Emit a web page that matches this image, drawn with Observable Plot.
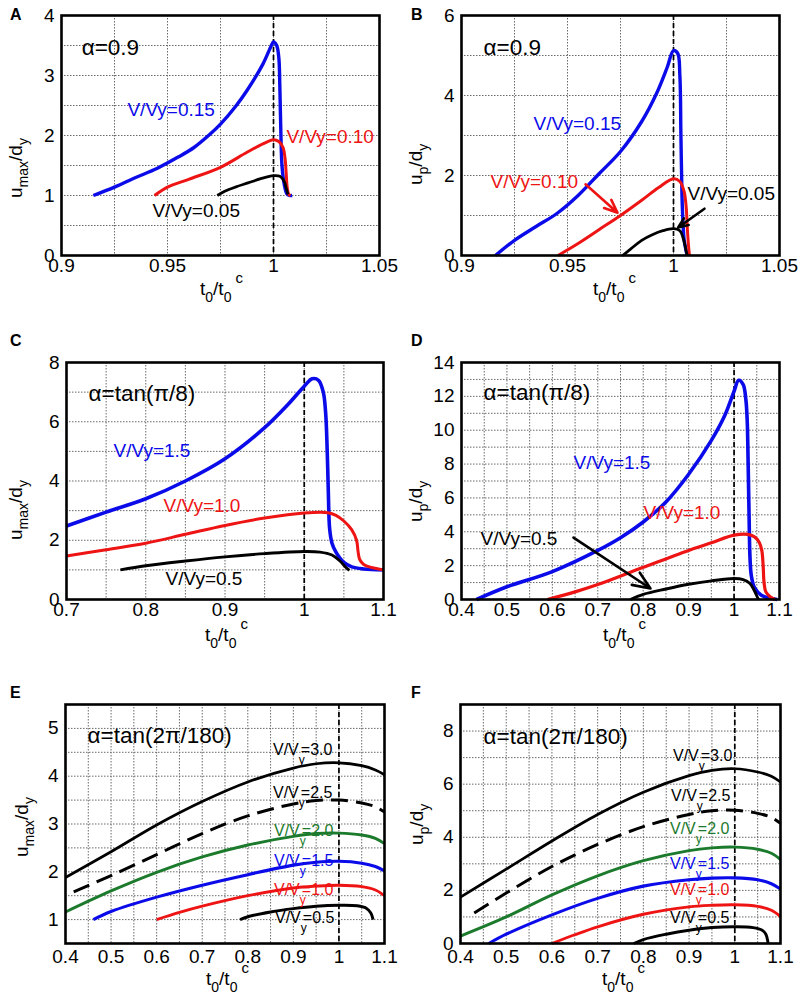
<!DOCTYPE html>
<html><head><meta charset="utf-8">
<script src="https://cdn.jsdelivr.net/npm/d3@7"></script>
<script src="https://cdn.jsdelivr.net/npm/@observablehq/plot@0.6"></script>
<style>
body{margin:0;background:#fff;}
#root{position:relative;width:801px;height:1003px;overflow:hidden;font-family:"Liberation Sans",Arial,sans-serif;background:#fff;}
.panel{position:absolute;}
.letter{position:absolute;font-weight:bold;font-size:16px;line-height:1;font-family:"Liberation Sans",Arial,sans-serif;}
</style></head><body><div id="root"></div>
<script>
// ---------- DATA ----------
// Panel A (alpha = 0.9): u_max/d_y vs t0/t0c
const A_v015 = [[0.915,1.0],[0.925,1.14],[0.935,1.3],[0.945,1.45],[0.955,1.64],[0.9625,1.8],[0.97,2.02],[0.975,2.19],[0.982,2.48],[0.9875,2.75],[0.995,3.19],[0.999,3.5],[1.0,3.56],[1.0015,3.5],[1.0025,3.3],[1.003,2.8],[1.0035,2.0],[1.004,1.5],[1.005,1.2],[1.0063,1.03],[1.0075,1.0],[1.0088,1.0]];
const A_v010 = [[0.9439,1.0],[0.95,1.14],[0.96,1.27],[0.975,1.47],[0.9875,1.72],[0.995,1.86],[1.0,1.93],[1.0025,1.9],[1.0045,1.8],[1.0055,1.6],[1.006,1.36],[1.0065,1.12],[1.0072,1.02],[1.008,1.0]];
const A_v005 = [[0.9735,1.0],[0.977,1.07],[0.982,1.14],[0.988,1.21],[0.994,1.28],[1.0,1.33],[1.003,1.32],[1.005,1.24],[1.006,1.12],[1.0068,1.02]];
// Panel B (alpha = 0.9): u_p/d_y
const B_v015 = [[0.916,0],[0.925,0.38],[0.935,0.72],[0.945,1.05],[0.955,1.5],[0.965,2.05],[0.975,2.6],[0.985,3.35],[0.992,4.05],[0.997,4.7],[1.0,5.12],[1.002,5.05],[1.003,4.5],[1.0035,3.0],[1.004,1.5],[1.0045,0.8],[1.005,0.4],[1.006,0.1],[1.0065,0]];
const B_v010 = [[0.9455,0],[0.955,0.3],[0.965,0.65],[0.975,1.0],[0.985,1.38],[0.993,1.7],[1.0,1.92],[1.003,1.85],[1.005,1.6],[1.006,1.2],[1.0065,0.7],[1.007,0.3],[1.0075,0]];
const B_v005 = [[0.976,0],[0.98,0.17],[0.985,0.38],[0.99,0.52],[0.995,0.62],[1.0,0.67],[1.003,0.62],[1.005,0.35],[1.006,0.1],[1.0065,0]];
// Panel C (alpha = tan(pi/8)): u_max/d_y
const C_v15 = [[0.7,2.48],[0.75,2.95],[0.8,3.4],[0.85,4.0],[0.9,4.75],[0.95,5.8],[0.98,6.6],[1.0,7.2],[1.01,7.45],[1.018,7.4],[1.024,7.0],[1.027,6.3],[1.029,5.0],[1.0305,3.5],[1.032,2.4],[1.035,1.9],[1.04,1.6],[1.05,1.25],[1.06,1.1],[1.075,1.03],[1.1,1.0]];
const C_v10 = [[0.7,1.47],[0.75,1.68],[0.8,1.9],[0.85,2.2],[0.9,2.5],[0.95,2.75],[1.0,2.92],[1.03,2.93],[1.04,2.84],[1.05,2.65],[1.06,2.35],[1.066,2.0],[1.068,1.6],[1.07,1.35],[1.075,1.18],[1.085,1.08],[1.1,1.0]];
const C_v05 = [[0.768,1.0],[0.8,1.14],[0.85,1.3],[0.9,1.44],[0.95,1.55],[1.0,1.62],[1.02,1.6],[1.035,1.5],[1.045,1.3],[1.052,1.1],[1.057,0.98]];
// Panel D (alpha = tan(pi/8)): u_p/d_y
const D_v15 = [[0.433,0],[0.5,0.75],[0.6,1.65],[0.7,2.9],[0.75,3.65],[0.8,4.58],[0.85,5.76],[0.9,7.4],[0.95,9.4],[0.98,10.9],[1.0,12.3],[1.01,12.95],[1.02,12.7],[1.026,11.8],[1.029,10.5],[1.031,8.0],[1.033,5.0],[1.035,2.5],[1.038,1.4],[1.045,0.7],[1.06,0.25],[1.08,0.07],[1.095,0]];
const D_v10 = [[0.589,0],[0.65,0.45],[0.7,0.88],[0.8,1.9],[0.9,2.9],[0.95,3.35],[1.0,3.8],[1.03,3.85],[1.045,3.7],[1.055,3.4],[1.061,2.9],[1.064,2.0],[1.066,1.0],[1.07,0.45],[1.08,0.15],[1.09,0]];
const D_v05 = [[0.772,0],[0.8,0.3],[0.85,0.62],[0.9,0.9],[0.95,1.1],[1.0,1.24],[1.02,1.18],[1.035,0.95],[1.045,0.5],[1.052,0.1],[1.054,0]];
// Panel E (alpha = tan(2pi/180)): u_max/d_y
const E_v30 = [[0.4,1.88],[0.5,2.42],[0.6,2.98],[0.7,3.47],[0.8,3.88],[0.9,4.17],[0.95,4.26],[1.0,4.28],[1.05,4.22],[1.08,4.13],[1.1,4.03]];
const E_v25 = [[0.418,1.58],[0.5,1.92],[0.6,2.36],[0.7,2.8],[0.8,3.17],[0.9,3.42],[0.95,3.49],[1.0,3.5],[1.05,3.44],[1.08,3.36],[1.1,3.25]];
const E_v20 = [[0.4,1.16],[0.5,1.6],[0.6,1.99],[0.7,2.31],[0.8,2.56],[0.9,2.74],[0.95,2.8],[1.0,2.81],[1.05,2.77],[1.08,2.7],[1.1,2.59]];
const E_v15 = [[0.461,1.0],[0.5,1.17],[0.6,1.47],[0.7,1.72],[0.8,1.94],[0.9,2.14],[0.95,2.2],[1.0,2.22],[1.05,2.18],[1.08,2.11],[1.1,2.02]];
const E_v10 = [[0.6,1.0],[0.65,1.15],[0.7,1.28],[0.8,1.5],[0.9,1.66],[0.95,1.7],[1.0,1.72],[1.05,1.69],[1.08,1.62],[1.1,1.5]];
const E_v05 = [[0.783,1.0],[0.8,1.06],[0.85,1.16],[0.9,1.23],[0.95,1.28],[1.0,1.3],[1.04,1.29],[1.06,1.24],[1.07,1.14],[1.075,1.0]];
// Panel F (alpha = tan(2pi/180)): u_p/d_y
const F_v30 = [[0.4,1.75],[0.5,2.8],[0.6,3.86],[0.7,4.86],[0.8,5.7],[0.9,6.32],[0.95,6.52],[1.0,6.58],[1.05,6.46],[1.08,6.3],[1.1,6.08]];
const F_v25 = [[0.43,1.15],[0.5,1.9],[0.6,2.9],[0.7,3.73],[0.8,4.4],[0.9,4.86],[0.95,5.0],[1.0,5.02],[1.05,4.9],[1.08,4.75],[1.1,4.53]];
const F_v20 = [[0.4,0.28],[0.5,1.0],[0.6,1.83],[0.7,2.55],[0.8,3.12],[0.9,3.5],[0.95,3.6],[1.0,3.63],[1.05,3.55],[1.08,3.4],[1.1,3.16]];
const F_v15 = [[0.462,0],[0.5,0.35],[0.6,1.08],[0.7,1.7],[0.8,2.16],[0.9,2.4],[0.95,2.46],[1.0,2.47],[1.05,2.4],[1.08,2.25],[1.1,2.05]];
const F_v10 = [[0.6,0],[0.65,0.33],[0.7,0.63],[0.8,1.1],[0.9,1.38],[0.95,1.44],[1.0,1.46],[1.05,1.4],[1.08,1.25],[1.1,1.01]];
const F_v05 = [[0.779,0],[0.8,0.15],[0.85,0.35],[0.9,0.5],[0.95,0.6],[1.0,0.63],[1.04,0.6],[1.06,0.5],[1.068,0.35],[1.072,0.1],[1.073,0]];

// Tick labels
const xTicksAB = [0.9, 0.95, 1, 1.05];
const xTicksC = [0.7, 0.8, 0.9, 1, 1.1];
const xTicksDEF = [0.4, 0.5, 0.6, 0.7, 0.8, 0.9, 1, 1.1];
const yTicksA = [0, 1, 2, 3, 4];
const yTicksB = [0, 2, 4, 6];
const yTicksC = [0, 2, 4, 6, 8];
const yTicksD = [0, 2, 4, 6, 8, 10, 12, 14];
const yTicksE = [1, 2, 3, 4, 5];
const yTicksF = [0, 2, 4, 6, 8];

// ---------- STYLE ----------
const BLUE = "#0b0bea", RED = "#ee1414", GREEN = "#1c7a2c", BLACK = "#000";
const FONT = '"Liberation Sans", Arial, sans-serif';
const AS = 22.5; // alpha label font size
const rng = (a, b, s) => d3.range(Math.round((b - a) / s) + 1).map(i => +(a + i * s).toFixed(4));

const panels = [
  {id:"A", left:0, top:0, w:400, h:300, m:[15,21,45,61], xd:[0.9,1.05], yd:[0,4], xt:xTicksAB, yt:yTicksA,
   xg:rng(0.9,1.05,0.025), yg:rng(0,4,0.5), tp:3, ylab:"max", ylx:22, yly:198, xlx:200, xly:295,
   series:[{d:A_v015,c:BLUE,w:3.4},{d:A_v010,c:RED,w:3},{d:A_v005,c:BLACK,w:2.8}],
   texts:[{t:"α=0.9",x:0.9095,y:3.47,c:BLACK,s:AS},{t:"V/Vy=0.15",x:0.9311,y:2.42,c:BLUE,s:19},
          {t:"V/Vy=0.10",x:1.0061,y:1.97,c:RED,s:19},{t:"V/Vy=0.05",x:0.9429,y:0.75,c:BLACK,s:19}], arrows:[], subl:[]},
  {id:"B", left:400, top:0, w:400, h:300, m:[15,21,45,61], xd:[0.9,1.05], yd:[0,6], xt:xTicksAB, yt:yTicksB,
   xg:rng(0.9,1.05,0.025), yg:rng(0,6,1), tp:3, ylab:"p", ylx:22, yly:185, xlx:193, xly:295,
   series:[{d:B_v015,c:BLUE,w:3.4},{d:B_v010,c:RED,w:3},{d:B_v005,c:BLACK,w:2.8}],
   texts:[{t:"α=0.9",x:0.9104,y:5.2,c:BLACK,s:AS},{t:"V/Vy=0.15",x:0.934,y:3.3,c:BLUE,s:19},
          {t:"V/Vy=0.10",x:0.9137,y:1.83,c:RED,s:19},{t:"V/Vy=0.05",x:1.0066,y:1.55,c:BLACK,s:19}],
   arrows:[{x1:0.9585,y1:1.78,x2:0.9736,y2:1.07,c:RED},{x1:1.0146,y1:1.17,x2:1.0022,y2:0.7,c:BLACK}], subl:[]},
  {id:"C", left:0, top:330, w:400, h:320, m:[32,17,51,66], xd:[0.7,1.1], yd:[0,8], xt:xTicksC, yt:yTicksC,
   xg:rng(0.7,1.1,0.05), yg:rng(0,8,1), tp:3, ylab:"max", ylx:22, yly:210, xlx:205, xly:311,
   series:[{d:C_v15,c:BLUE,w:3.6},{d:C_v10,c:RED,w:3},{d:C_v05,c:BLACK,w:2.9}],
   texts:[{t:"α=tan(π/8)",x:0.7278,y:6.95,c:BLACK,s:AS},{t:"V/Vy=1.5",x:0.7593,y:5.03,c:BLUE,s:19},
          {t:"V/Vy=1.0",x:0.8224,y:3.17,c:RED,s:19},{t:"V/Vy=0.5",x:0.8249,y:0.71,c:BLACK,s:19}], arrows:[], subl:[]},
  {id:"D", left:400, top:330, w:400, h:320, m:[32,21,51,61], xd:[0.4,1.1], yd:[0,14], xt:xTicksDEF, yt:yTicksD,
   xg:rng(0.4,1.1,0.05), yg:rng(0,14,1), tp:3, ylab:"p", ylx:22, yly:192, xlx:203, xly:311,
   series:[{d:D_v15,c:BLUE,w:3.6},{d:D_v10,c:RED,w:3.2},{d:D_v05,c:BLACK,w:2.9}],
   texts:[{t:"α=tan(π/8)",x:0.4484,y:12.23,c:BLACK,s:AS},{t:"V/Vy=1.5",x:0.6465,y:8.09,c:BLUE,s:19},
          {t:"V/Vy=1.0",x:0.8006,y:5.14,c:RED,s:19},{t:"V/Vy=0.5",x:0.4418,y:3.6,c:BLACK,s:19}],
   arrows:[{x1:0.6465,y1:3.66,x2:0.816,y2:0.65,c:BLACK}], subl:[]},
  {id:"E", left:0, top:660, w:400, h:343, m:[44,16,60,65], xd:[0.4,1.1], yd:[0.5,5.5], xt:xTicksDEF, yt:yTicksE,
   xg:rng(0.4,1.1,0.05), yg:rng(0.5,5.5,0.5), tp:6, ylab:"max", ylx:28, yly:197, xlx:206, xly:325,
   series:[{d:E_v30,c:BLACK,w:2.7},{d:E_v25,c:BLACK,w:3,dash:"17,8"},{d:E_v20,c:GREEN,w:2.9},{d:E_v15,c:BLUE,w:3.1},{d:E_v10,c:RED,w:2.9},{d:E_v05,c:BLACK,w:2.9}],
   texts:[{t:"α=tan(2π/180)",x:0.4483,y:4.85,c:BLACK,s:AS}], arrows:[],
   subl:[{v:"3.0",x:0.8564,y:4.54,c:BLACK},{v:"2.5",x:0.8564,y:3.66,c:BLACK},{v:"2.0",x:0.8586,y:2.86,c:GREEN},
         {v:"1.5",x:0.8586,y:2.22,c:BLUE},{v:"1.0",x:0.8586,y:1.63,c:RED},{v:"0.5",x:0.8608,y:1.04,c:BLACK}]},
  {id:"F", left:400, top:660, w:400, h:343, m:[44,20,60,60], xd:[0.4,1.1], yd:[0,9], xt:xTicksDEF, yt:yTicksF,
   xg:rng(0.4,1.1,0.05), yg:rng(0,9,1), tp:6, ylab:"p", ylx:23, yly:185, xlx:202, xly:325,
   series:[{d:F_v30,c:BLACK,w:2.7},{d:F_v25,c:BLACK,w:3,dash:"17,8"},{d:F_v20,c:GREEN,w:2.9},{d:F_v15,c:BLUE,w:3.1},{d:F_v10,c:RED,w:2.9},{d:F_v05,c:BLACK,w:2.9}],
   texts:[{t:"α=tan(2π/180)",x:0.4503,y:7.79,c:BLACK,s:AS}], arrows:[],
   subl:[{v:"3.0",x:0.8659,y:7.08,c:BLACK},{v:"2.5",x:0.8616,y:5.54,c:BLACK},{v:"2.0",x:0.8594,y:4.33,c:GREEN},
         {v:"1.5",x:0.8594,y:3.01,c:BLUE},{v:"1.0",x:0.8594,y:2.0,c:RED},{v:"0.5",x:0.8594,y:0.98,c:BLACK}]}
];

const root = document.getElementById("root");
const gridStyle = {stroke:"#6a6a6a", strokeOpacity:1, strokeWidth:1, strokeDasharray:"1.5,1.5"};

for (const p of panels) {
  const [mt, mr, mb, ml] = p.m;
  const marks = [
    Plot.gridX({ticks: p.xg, ...gridStyle}),
    Plot.gridY({ticks: p.yg, ...gridStyle}),
    Plot.axisX({ticks: p.xt, tickSize:0, tickPadding:p.tp, tickFormat:d => String(d), label:null, fontSize:19}),
    Plot.axisY({ticks: p.yt, tickSize:0, tickPadding:7, tickFormat:d => String(d), label:null, fontSize:19}),
    Plot.ruleX([1], {stroke:BLACK, strokeWidth:1.7, strokeDasharray:"5,3"}),
    ...p.series.map(s => Plot.line(s.d, {x:d => d[0], y:d => d[1], stroke:s.c, strokeWidth:s.w,
        strokeDasharray:s.dash, curve:"catmull-rom", strokeLinecap:"butt"})),
    ...p.arrows.map(a => Plot.arrow([a], {x1:"x1", y1:"y1", x2:"x2", y2:"y2", stroke:a.c, strokeWidth:2.6, headLength:11, headAngle:45})),
    ...p.texts.map(t => Plot.text([t], {x:"x", y:"y", text:"t", fill:t.c, fontSize:t.s, textAnchor:"start", fontFamily:FONT})),
    Plot.frame({stroke:BLACK, strokeWidth:2.6})
  ];
  const svg = Plot.plot({
    width:p.w, height:p.h, marginTop:mt, marginRight:mr, marginBottom:mb, marginLeft:ml,
    x:{domain:p.xd}, y:{domain:p.yd},
    style:{fontFamily:FONT, fontSize:"19px", overflow:"visible", background:"transparent", color:"#000"},
    marks
  });
  svg.classList.add("panel");
  svg.style.left = p.left + "px";
  svg.style.top = p.top + "px";
  const sel = d3.select(svg);
  const sx = svg.scale("x"), sy = svg.scale("y");
  // y axis label (rotated)
  sel.append("text")
    .attr("transform", `translate(${p.ylx},${p.yly}) rotate(-90)`)
    .attr("text-anchor", "start")
    .attr("font-size", 19).attr("font-family", FONT).attr("fill", "#000")
    .html(`u<tspan dy="6" font-size="14">${p.ylab}</tspan><tspan dy="-6">/d</tspan><tspan dy="6" font-size="14">y</tspan>`);
  // x axis label
  sel.append("text")
    .attr("x", p.xlx).attr("y", p.xly)
    .attr("text-anchor", "start")
    .attr("font-size", 19).attr("font-family", FONT).attr("fill", "#000")
    .html(`t<tspan dy="7" font-size="14">0</tspan><tspan dy="-7">/t</tspan><tspan dy="7" font-size="14">0</tspan><tspan dy="-19" dx="4" font-size="15">c</tspan>`);
  // V/V_y labels with subscript
  for (const l of p.subl) {
    sel.append("text")
      .attr("x", sx.apply(l.x)).attr("y", sy.apply(l.y)).attr("dy", "0.35em")
      .attr("text-anchor", "start")
      .attr("font-size", 16).attr("font-family", FONT).attr("fill", l.c)
      .html(`V/V<tspan dy="9" font-size="12">y</tspan><tspan dy="-9" dx="-4">=${l.v}</tspan>`);
  }
  root.appendChild(svg);
  const letter = document.createElement("div");
  letter.className = "letter";
  letter.textContent = p.id;
  letter.style.left = (p.left + (p.left ? 11 : 10)) + "px";
  letter.style.top = (p.top + (p.top === 660 ? 25 : (p.top === 330 ? 3 : 7))) + "px";
  root.appendChild(letter);
}
</script>
</body></html>
